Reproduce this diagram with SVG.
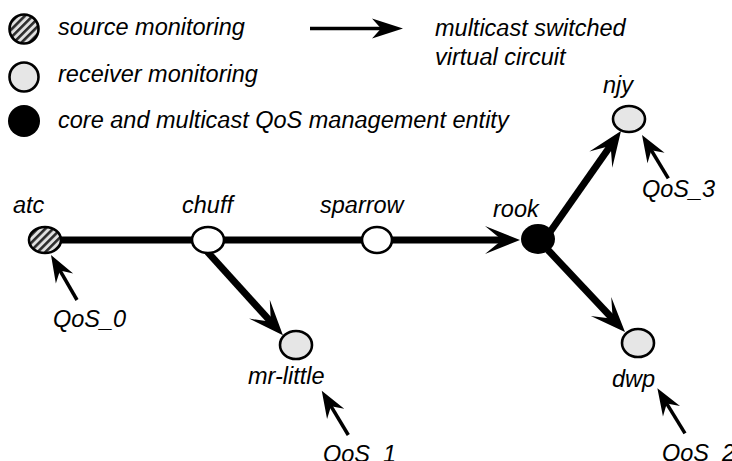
<svg xmlns="http://www.w3.org/2000/svg" width="732" height="461" viewBox="0 0 732 461">
  <style>
    text { font-family: "Liberation Sans", Arial, sans-serif; font-style: italic; font-size: 23.5px; fill: #000; }
    .node { stroke: #000; stroke-width: 2.6; }
    .white { fill: #ffffff; }
    .grey { fill: #e6e6e6; }
    .core { fill: #000; }
    .src { fill: url(#hatch); }
    .vc { fill: none; stroke: #000; stroke-width: 7; stroke-linecap: butt; marker-end: url(#bigHead); }
    .qos { fill: none; stroke: #000; stroke-width: 3.5; marker-end: url(#smallHead); }
  </style>
  <defs>
    <pattern id="hatch" patternUnits="userSpaceOnUse" width="5.5" height="5.5" patternTransform="rotate(45)">
      <rect width="5.5" height="5.5" fill="#e0e0e0"/>
      <rect width="2.6" height="5.5" fill="#2a2a2a"/>
    </pattern>
    <!-- swept-back arrowheads; refX sits inside the head so the line end is hidden -->
    <marker id="bigHead" markerUnits="userSpaceOnUse" markerWidth="36" markerHeight="28" refX="22" refY="14" orient="auto" overflow="visible">
      <path d="M0,0 L35,14 L0,28 L17,14 Z" fill="#000"/>
    </marker>
    <marker id="smallHead" markerUnits="userSpaceOnUse" markerWidth="28" markerHeight="20" refX="17" refY="10" orient="auto" overflow="visible">
      <path d="M0,0 L27,10 L0,20 L9,10 Z" fill="#000"/>
    </marker>
    <marker id="legendHead" markerUnits="userSpaceOnUse" markerWidth="32" markerHeight="20" refX="20" refY="10" orient="auto" overflow="visible">
      <path d="M0,0 L31,10 L0,20 L9,10 Z" fill="#000"/>
    </marker>
  </defs>

  <!-- legend -->
  <g id="legend">
    <circle class="node src" cx="24" cy="29" r="14.5"/>
    <text x="58" y="35">source monitoring</text>
    <circle class="node grey" cx="24" cy="77" r="14.5"/>
    <text x="58" y="82">receiver monitoring</text>
    <circle class="core" cx="24" cy="121" r="16"/>
    <text x="58" y="128">core and multicast QoS management entity</text>
    <line x1="310" y1="28.5" x2="392" y2="28.5" stroke="#000" stroke-width="3.5" marker-end="url(#legendHead)"/>
    <text x="435" y="36">multicast switched</text>
    <text x="435" y="65">virtual circuit</text>
  </g>

  <!-- virtual circuit connectors and QoS pointers -->
  <g id="connectors">
    <line class="vc" x1="45" y1="240" x2="507" y2="240"/>
    <line class="vc" x1="207.5" y1="252" x2="274.2" y2="325.5"/>
    <line class="vc" x1="550" y1="232" x2="613.5" y2="141.6"/>
    <line class="vc" x1="548" y1="250" x2="616.1" y2="322.5"/>
    <line class="qos" x1="77" y1="300" x2="56" y2="263.7"/>
    <line class="qos" x1="668.3" y1="178.3" x2="647.2" y2="143.5"/>
    <line class="qos" x1="348.3" y1="435" x2="326.9" y2="399.3"/>
    <line class="qos" x1="685" y1="433.3" x2="662.6" y2="396.8"/>
  </g>

  <g id="atc">
    <ellipse class="node src" cx="45" cy="240" rx="16" ry="13"/>
    <text x="13" y="213">atc</text>
    <text x="53" y="327">QoS_0</text>
  </g>
  <g id="chuff">
    <ellipse class="node white" cx="208" cy="240" rx="16" ry="13"/>
    <text x="182" y="213">chuff</text>
  </g>
  <g id="sparrow">
    <ellipse class="node white" cx="377" cy="240" rx="15" ry="13"/>
    <text x="320" y="213">sparrow</text>
  </g>
  <g id="rook">
    <ellipse class="core" cx="538" cy="239" rx="17" ry="15"/>
    <text x="493" y="217">rook</text>
  </g>
  <g id="njy">
    <ellipse class="node grey" cx="629" cy="119" rx="16" ry="13"/>
    <text x="603" y="93">njy</text>
    <text x="642" y="197">QoS_3</text>
  </g>
  <g id="mr-little">
    <ellipse class="node grey" cx="296" cy="345" rx="16" ry="14"/>
    <text x="248" y="384">mr-little</text>
    <text x="323" y="462">QoS_1</text>
  </g>
  <g id="dwp">
    <ellipse class="node grey" cx="638" cy="343" rx="16" ry="14"/>
    <text x="612" y="387">dwp</text>
    <text x="662" y="461">QoS_2</text>
  </g>
</svg>
